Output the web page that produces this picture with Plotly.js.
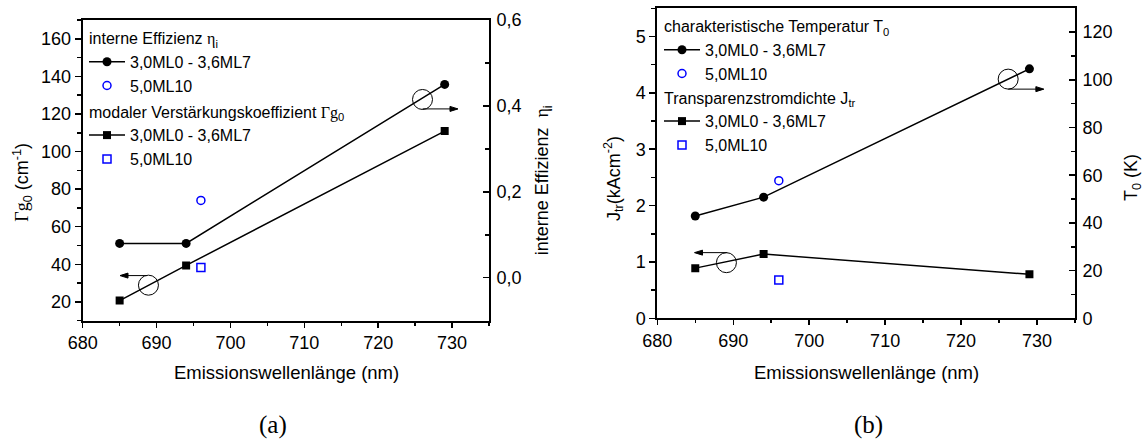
<!DOCTYPE html>
<html>
<head>
<meta charset="utf-8">
<script src="https://cdn.plot.ly/plotly-3.0.1.min.js"></script>
<style>
  html, body { margin: 0; padding: 0; background: #fff; }
  #chart { width: 1144px; height: 439px; }
</style>
</head>
<body>
<div id="chart"></div>
<script>
// ---- data ----
const wavelengths = [685, 694, 729];          // nm, 3,0ML0 - 3,6ML7 series
const refWavelength = [696];                  // nm, 5,0ML10 sample
const etaSeries = [0.08, 0.08, 0.45];         // interne Effizienz
const etaRef = [0.18];
const g0Series = [20.7, 39.4, 110.9];         // modaler Verstärkungskoeffizient (cm^-1)
const g0Ref = [38.3];
const t0Series = [42.9, 50.8, 104.6];         // charakteristische Temperatur (K)
const t0Ref = [57.7];
const jtrSeries = [0.89, 1.14, 0.78];         // Transparenzstromdichte (kA/cm^2)
const jtrRef = [0.68];
const seriesNames = ['3,0ML0 - 3,6ML7', '5,0ML10'];

const SANS = 'Liberation Sans, Arial, sans-serif';
const SERIF = 'Liberation Serif, Times New Roman, serif';
const sf = t => '<span style="font-family:' + SERIF + '">' + t + '</span>';
const BLUE = '#0000ff';

function lineTrace(x, y, xa, ya, legend, group, gtitle, symbol) {
  return {
    x: x, y: y, xaxis: xa, yaxis: ya, type: 'scatter', mode: 'lines+markers',
    name: seriesNames[0], legend: legend, legendgroup: group,
    legendgrouptitle: { text: gtitle, font: { size: 16, family: SANS, color: '#000' } },
    line: { color: '#000', width: 1.5 },
    marker: { symbol: symbol, size: symbol === 'circle' ? 9 : 8, color: '#000' }
  };
}
function refTrace(x, y, xa, ya, legend, group, symbol) {
  return {
    x: x, y: y, xaxis: xa, yaxis: ya, type: 'scatter', mode: 'markers',
    name: seriesNames[1], legend: legend, legendgroup: group,
    marker: { symbol: symbol, size: 8, color: BLUE, line: { color: BLUE, width: 1.5 } }
  };
}

const data = [
  lineTrace(wavelengths, etaSeries, 'x', 'y2', 'legend', 'eta', 'interne Effizienz ' + sf('η') + '<sub>i</sub>', 'circle'),
  refTrace(refWavelength, etaRef, 'x', 'y2', 'legend', 'eta', 'circle-open'),
  lineTrace(wavelengths, g0Series, 'x', 'y', 'legend', 'g0', 'modaler Verstärkungskoeffizient ' + sf('Γg') + '<sub>0</sub>', 'square'),
  refTrace(refWavelength, g0Ref, 'x', 'y', 'legend', 'g0', 'square-open'),
  lineTrace(wavelengths, t0Series, 'x2', 'y4', 'legend2', 't0', 'charakteristische Temperatur T<sub>0</sub>', 'circle'),
  refTrace(refWavelength, t0Ref, 'x2', 'y4', 'legend2', 't0', 'circle-open'),
  lineTrace(wavelengths, jtrSeries, 'x2', 'y3', 'legend2', 'jtr', 'Transparenzstromdichte J<sub>tr</sub>', 'square'),
  refTrace(refWavelength, jtrRef, 'x2', 'y3', 'legend2', 'jtr', 'square-open')
];

const W = 1144, H = 439;
const px = v => v / W, py = v => 1 - v / H;

const baseAxis = {
  showgrid: false, zeroline: false, showline: true, linecolor: '#000', linewidth: 2,
  tickcolor: '#000', tickwidth: 1.5, tickfont: { size: 18, family: SANS, color: '#000' }
};
function xMain(domain, anchor) {
  return Object.assign({}, baseAxis, {
    domain: domain, anchor: anchor, range: [680, 735], tick0: 680, dtick: 10,
    ticks: 'outside', ticklen: 5, mirror: true,
    minor: { ticks: 'outside', ticklen: 3, dtick: 5, tick0: 680, tickcolor: '#000', tickwidth: 1.5 }
  });
}
function xTop(over, anchor) {
  return {
    overlaying: over, anchor: anchor, side: 'top', range: [680, 735], tick0: 680, dtick: 5,
    ticks: 'inside', ticklen: 5, tickwidth: 1.5, tickcolor: '#000',
    showticklabels: false, showgrid: false, zeroline: false, showline: false
  };
}
function yLeft(domain, anchor, range, dtick, mdtick) {
  return Object.assign({}, baseAxis, {
    domain: domain, anchor: anchor, range: range, tick0: 0, dtick: dtick,
    ticks: 'outside', ticklen: 6,
    minor: { ticks: 'outside', ticklen: 4, dtick: mdtick, tick0: 0, tickcolor: '#000', tickwidth: 1.5 }
  });
}
function yRight(over, anchor, range, dtick, mdtick, fmt) {
  return Object.assign({}, baseAxis, {
    overlaying: over, anchor: anchor, side: 'right', range: range, tick0: 0, dtick: dtick,
    tickformat: fmt, ticks: 'inside', ticklen: 6, ticklabelstandoff: 2,
    minor: { ticks: 'inside', ticklen: 4, dtick: mdtick, tick0: 0, tickcolor: '#000', tickwidth: 1.5 }
  });
}

// open circle marking which axis a curve belongs to
const circ = (xr, yr, x, y) => ({
  type: 'circle', xref: xr, yref: yr, xsizemode: 'pixel', ysizemode: 'pixel',
  xanchor: x, yanchor: y, x0: -10, x1: 10, y0: -10, y1: 10,
  line: { color: '#000', width: 1 }
});
// arrow (shaft + head) pointing from tail x0 to head x1 at height y
const arrowShaft = (xr, yr, x0, x1, y) => ({
  type: 'line', xref: xr, yref: yr, x0: x0, x1: x1, y0: y, y1: y,
  line: { color: '#000', width: 1 }
});
const arrowHead = (xr, yr, x1, y, dir) => ({
  type: 'path', xref: xr, yref: yr, xsizemode: 'pixel', ysizemode: 'pixel',
  xanchor: x1, yanchor: y,
  path: dir > 0 ? 'M 0,0 L -8,-2.5 L -8,2.5 Z' : 'M 0,0 L 8,-2.5 L 8,2.5 Z',
  fillcolor: '#000', line: { color: '#000', width: 1 }
});
const label = (x, y, text, extra) => Object.assign({
  xref: 'paper', yref: 'paper', x: px(x), y: py(y), xanchor: 'center', yanchor: 'middle',
  text: text, showarrow: false, font: { size: 18, family: SANS, color: '#000' }
}, extra || {});

const legendBase = {
  bgcolor: 'rgba(0,0,0,0)', borderwidth: 0, xanchor: 'left', yanchor: 'top',
  font: { size: 16, family: SANS, color: '#000' }, itemwidth: 36, tracegroupgap: 2,
  traceorder: 'grouped', itemclick: false
};

const layout = {
  width: W, height: H, margin: { l: 0, r: 0, t: 0, b: 0 },
  paper_bgcolor: '#fff', plot_bgcolor: 'rgba(0,0,0,0)',
  separators: ', ',
  font: { family: SANS, color: '#000' },
  showlegend: true,
  xaxis: xMain([px(82.7), px(489)], 'y'),
  xaxis3: xTop('x', 'y'),
  yaxis: yLeft([py(320.7), py(20)], 'x', [10, 170], 20, 10),
  yaxis2: yRight('y', 'x', [-0.1, 0.6], 0.2, 0.1, '.1f'),
  xaxis2: xMain([px(657.3), px(1075)], 'y3'),
  xaxis4: xTop('x2', 'y3'),
  yaxis3: yLeft([py(318.3), py(8.3)], 'x2', [0, 5.5], 1, 0.5),
  yaxis4: yRight('y3', 'x2', [0, 130], 20, 10, 'd'),
  legend: Object.assign({}, legendBase, { x: px(84), y: py(21) }),
  legend2: Object.assign({}, legendBase, { x: px(659), y: py(9), tracegroupgap: 0 }),
  shapes: [
    circ('x', 'y', 688.9, 28.9),
    circ('x', 'y2', 726.0, 0.415),
    circ('x2', 'y3', 689.1, 0.987),
    circ('x2', 'y4', 726.2, 100.3),
    arrowShaft('x', 'y', 688.7, 685.3, 34.0), arrowHead('x', 'y', 685.05, 34.0, -1),
    arrowShaft('x', 'y2', 726.0, 730.5, 0.393), arrowHead('x', 'y2', 730.8, 0.393, 1),
    arrowShaft('x2', 'y3', 689.2, 685.2, 1.165), arrowHead('x2', 'y3', 684.9, 1.165, -1),
    arrowShaft('x2', 'y4', 726.2, 730.6, 96.1), arrowHead('x2', 'y4', 730.9, 96.1, 1)
  ],
  annotations: [
    label(286.3, 372, 'Emissionswellenlänge (nm)', { font: { size: 18.5, family: SANS, color: '#000' } }),
    label(866.5, 372, 'Emissionswellenlänge (nm)', { font: { size: 18.5, family: SANS, color: '#000' } }),
    label(21.7, 182, sf('Γg') + '<sub>0</sub> (cm<sup>-1</sup>)', { textangle: -90 }),
    label(543.3, 180, 'interne Effizienz  ' + sf('η') + '<sub>i</sub>', { textangle: -90 }),
    label(614, 179, 'J<sub>tr</sub>(kAcm<sup>-2</sup>)', { textangle: -90 }),
    label(1132, 178, 'T<sub>0</sub> (K)', { textangle: -90 }),
    label(273, 425, '(a)', { font: { size: 25, family: SERIF, color: '#000' } }),
    label(868, 425, '(b)', { font: { size: 25, family: SERIF, color: '#000' } })
  ]
};

Plotly.newPlot('chart', data, layout, { staticPlot: true, displayModeBar: false });
</script>
</body>
</html>
